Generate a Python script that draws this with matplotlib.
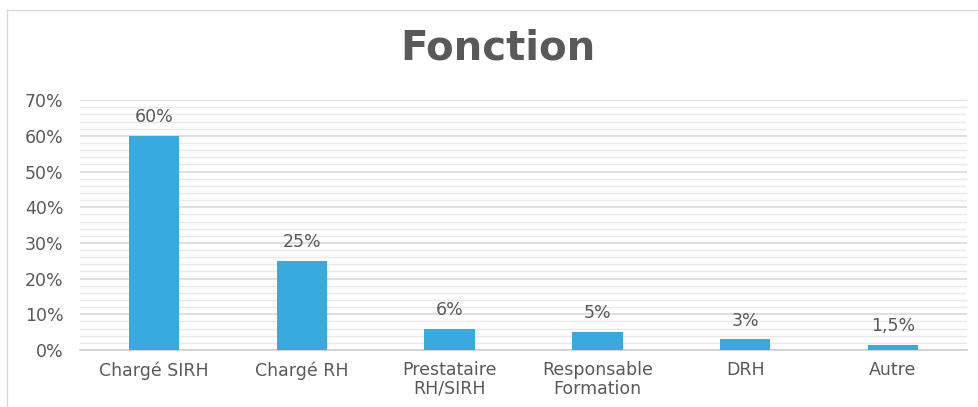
import numpy as np
import matplotlib.pyplot as plt
from matplotlib.lines import Line2D
from matplotlib.ticker import MultipleLocator, FuncFormatter

categories = ["Chargé SIRH", "Chargé RH", "Prestataire\nRH/SIRH",
              "Responsable\nFormation", "DRH", "Autre"]
values = [60, 25, 6, 5, 3, 1.5]
value_labels = ["60%", "25%", "6%", "5%", "3%", "1,5%"]

text_color = "#595959"
bar_color = "#38AADD"

plt.rcParams["font.family"] = ["DejaVu Sans"]

fig = plt.figure(figsize=(9.79, 4.07), dpi=100)
ax = fig.add_axes([0.0817, 0.140, 0.906, 0.614])

x = np.arange(len(categories))
ax.bar(x, values, width=0.34, color=bar_color, zorder=3)

for xi, v, lab in zip(x, values, value_labels):
    ax.annotate(lab, (xi, v), xytext=(0, 7), textcoords="offset points",
                ha="center", va="bottom", fontsize=12.5, color=text_color)

ax.set_xlim(-0.5, len(categories) - 0.5)
ax.set_ylim(0, 70)
ax.yaxis.set_major_locator(MultipleLocator(10))
ax.yaxis.set_minor_locator(MultipleLocator(2))
ax.yaxis.set_major_formatter(FuncFormatter(lambda v, p: f"{v:.0f}%"))
ax.grid(axis="y", which="major", color="#d9d9d9", linewidth=1.2, zorder=0)
ax.grid(axis="y", which="minor", color="#e9e9e9", linewidth=1.0, zorder=0)

ax.set_xticks(x)
ax.set_xticklabels(categories, fontsize=12.5, color=text_color, linespacing=1.05)
ax.tick_params(axis="x", length=0, pad=8)
ax.tick_params(axis="y", which="both", length=0, pad=12, labelsize=12.5,
               labelcolor=text_color)

for s in ["top", "right", "left"]:
    ax.spines[s].set_visible(False)
ax.spines["bottom"].set_color("#d0d0d0")
ax.spines["bottom"].set_linewidth(1.2)

fig.text(0.509, 0.882, "Fonction", ha="center", va="center", fontsize=29,
         fontweight="bold", color=text_color)

# thin frame around the chart
fig.add_artist(Line2D([0.007, 1.0], [0.975, 0.975], transform=fig.transFigure,
                      color="#d9d9d9", linewidth=1.0))
fig.add_artist(Line2D([0.007, 0.007], [0.0, 0.975], transform=fig.transFigure,
                      color="#d9d9d9", linewidth=1.0))

fig.savefig("out.png", dpi=100)
